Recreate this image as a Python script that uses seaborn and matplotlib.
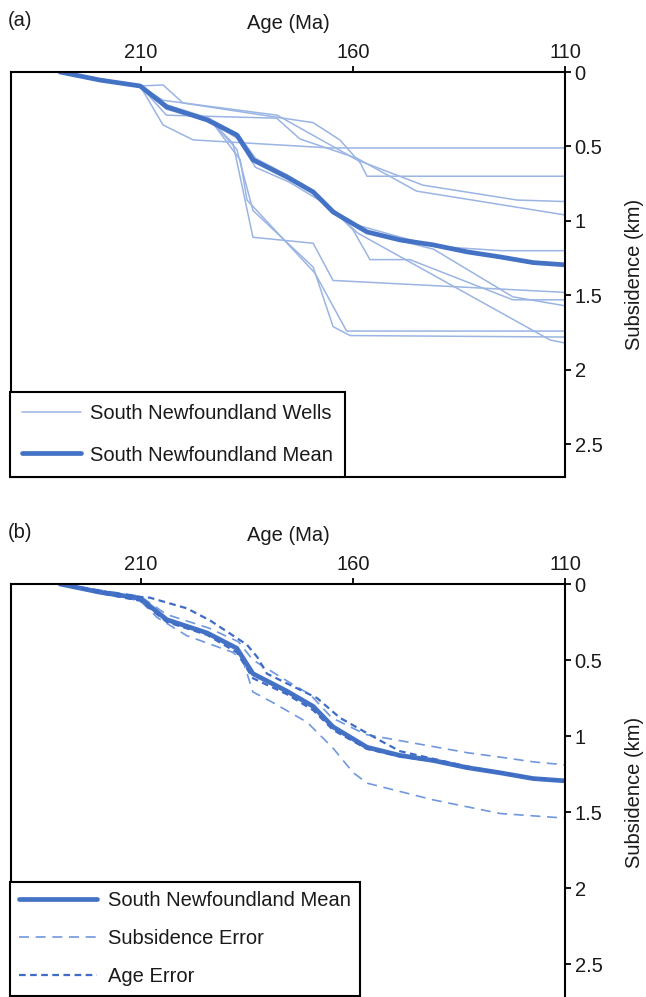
import matplotlib
matplotlib.use("Agg")
import matplotlib.pyplot as plt
import seaborn as sns
import pandas as pd
from matplotlib.lines import Line2D

sns.set_style("white")
plt.rcParams['font.family'] = ['Liberation Sans', 'DejaVu Sans']
plt.rcParams['text.color'] = '#1a1a1a'
plt.rcParams['axes.labelcolor'] = '#1a1a1a'
plt.rcParams['xtick.color'] = '#1a1a1a'
plt.rcParams['ytick.color'] = '#1a1a1a'

# ---------------- data ----------------
# Mean subsidence curve (age in Ma, subsidence in km)
mean_age = [229.1, 219.7, 210.2, 203.9, 194.4, 187.4, 183.6, 175.6, 169.4, 164.7,
            156.7, 148.9, 141.1, 133.1, 125.3, 117.5, 110.0]
mean_sub = [0.0, 0.054, 0.094, 0.235, 0.322, 0.423, 0.59, 0.705, 0.805, 0.94,
            1.074, 1.128, 1.161, 1.208, 1.242, 1.28, 1.295]

# Individual wells
w01_age = [229.1, 219.7, 210.2, 204.8, 197.7, 165.4, 110.0]
w01_sub = [0.0, 0.054, 0.094, 0.356, 0.456, 0.51, 0.51]
w02_age = [229.1, 219.7, 210.2, 204.8, 200.1, 178.9, 169.4, 163.1, 158.3, 156.7, 110.0]
w02_sub = [0.0, 0.054, 0.094, 0.087, 0.208, 0.30, 0.34, 0.456, 0.61, 0.70, 0.70]
w03_age = [229.1, 219.7, 210.2, 204.8, 177.9, 172.5, 159.1, 143.5, 121.3, 110.0]
w03_sub = [0.0, 0.054, 0.094, 0.19, 0.29, 0.376, 0.59, 0.76, 0.86, 0.87]
w04_age = [229.1, 219.7, 210.2, 204.0, 178.0, 172.5, 159.0, 145.0, 110.0]
w04_sub = [0.0, 0.054, 0.094, 0.29, 0.31, 0.45, 0.58, 0.80, 0.96]
w05_age = [229.1, 219.7, 210.2, 204.0, 194.0, 187.0, 183.0, 175.0, 168.0, 160.0, 150.0, 141.0, 125.0, 110.0]
w05_sub = [0.0, 0.054, 0.094, 0.25, 0.33, 0.45, 0.64, 0.74, 0.86, 1.02, 1.10, 1.17, 1.20, 1.20]
w06_age = [229.1, 219.7, 210.2, 204.0, 193.7, 188.3, 183.6, 169.4, 164.7, 110.0]
w06_sub = [0.0, 0.054, 0.094, 0.23, 0.32, 0.48, 1.11, 1.15, 1.40, 1.48]
w07_age = [229.1, 219.7, 210.2, 204.0, 194.0, 187.0, 182.0, 172.0, 165.0, 160.0, 156.0, 146.6, 122.3, 110.0]
w07_sub = [0.0, 0.054, 0.094, 0.24, 0.33, 0.44, 0.62, 0.75, 0.92, 1.06, 1.26, 1.26, 1.53, 1.53]
w08_age = [229.1, 219.7, 210.2, 204.0, 194.0, 187.0, 183.0, 175.0, 168.0, 163.0, 155.0, 141.0, 122.3, 110.0]
w08_sub = [0.0, 0.054, 0.094, 0.23, 0.32, 0.43, 0.60, 0.72, 0.84, 0.98, 1.09, 1.19, 1.51, 1.57]
w09_age = [229.1, 219.7, 210.2, 204.0, 194.0, 187.0, 183.0, 175.0, 168.0, 163.0, 159.0, 113.5, 110.0]
w09_sub = [0.0, 0.054, 0.094, 0.22, 0.31, 0.42, 0.58, 0.70, 0.83, 0.97, 1.08, 1.80, 1.82]
w10_age = [229.1, 219.7, 210.2, 204.0, 193.7, 187.4, 183.6, 169.4, 164.7, 160.7, 110.0]
w10_sub = [0.0, 0.054, 0.094, 0.23, 0.32, 0.52, 0.93, 1.31, 1.71, 1.77, 1.78]
w11_age = [229.1, 219.7, 210.2, 204.0, 193.7, 186.6, 185.0, 169.0, 161.5, 110.0]
w11_sub = [0.0, 0.054, 0.094, 0.23, 0.32, 0.59, 0.86, 1.35, 1.74, 1.74]

wells = [(w01_age, w01_sub), (w02_age, w02_sub), (w03_age, w03_sub), (w04_age, w04_sub),
         (w05_age, w05_sub), (w06_age, w06_sub), (w07_age, w07_sub), (w08_age, w08_sub),
         (w09_age, w09_sub), (w10_age, w10_sub), (w11_age, w11_sub)]

# Panel (b) error envelopes
sub_err_hi_age = [229.1, 219.7, 210.2, 204.0, 194.0, 187.0, 183.6, 176.0, 170.0, 165.0,
                  157.0, 149.0, 141.0, 133.0, 125.0, 117.5, 110.0]
sub_err_hi_sub = [0.0, 0.04, 0.08, 0.20, 0.29, 0.38, 0.50, 0.63, 0.73, 0.88,
                  0.99, 1.03, 1.07, 1.11, 1.14, 1.17, 1.19]
sub_err_lo_age = [229.1, 219.7, 210.2, 206.2, 199.2, 188.3, 185.9, 183.6, 178.9, 170.8,
                  164.7, 160.0, 156.7, 141.1, 125.3, 110.0]
sub_err_lo_sub = [0.0, 0.06, 0.11, 0.22, 0.34, 0.45, 0.51, 0.71, 0.78, 0.91,
                  1.08, 1.24, 1.31, 1.42, 1.51, 1.54]
age_err_a_age = [229.1, 219.7, 210.2, 207.9, 199.2, 193.7, 185.0, 182.6, 180.3, 168.5,
                 163.1, 153.6, 148.9, 141.1, 133.1, 125.3, 117.5, 110.0]
age_err_a_sub = [0.0, 0.045, 0.085, 0.09, 0.16, 0.24, 0.40, 0.48, 0.59, 0.75,
                 0.88, 1.03, 1.10, 1.15, 1.20, 1.24, 1.28, 1.295]
age_err_b_age = [229.1, 219.7, 210.2, 203.9, 194.4, 187.4, 183.6, 175.6, 169.4, 164.7,
                 156.7, 148.9, 141.1, 133.1, 125.3, 117.5, 110.0]
age_err_b_sub = [0.0, 0.06, 0.11, 0.25, 0.335, 0.45, 0.62, 0.725, 0.83, 0.96,
                 1.085, 1.135, 1.165, 1.21, 1.244, 1.28, 1.295]

age_ticks = [210, 160, 110]
sub_ticks = [0, 0.5, 1, 1.5, 2, 2.5]
sub_tick_labels = ["0", "0.5", "1", "1.5", "2", "2.5"]

# ---------------- styling ----------------
C_WELL = "#9AB4E4"
C_MEAN = "#4472C4"
C_SERR = "#6F98DE"
C_AERR = "#3F6CC6"
FS = 14.5

W, H = 646, 997
fig = plt.figure(figsize=(W / 100, H / 100), dpi=100)


def px_axes(left, top, right, bottom):
    return fig.add_axes([left / W, 1 - bottom / H, (right - left) / W, (bottom - top) / H])


def style_axes(ax, ymax):
    ax.set_xlim(240.66, 110)
    ax.set_ylim(ymax, 0)
    ax.xaxis.set_label_position('top')
    ax.xaxis.tick_top()
    ax.yaxis.set_label_position('right')
    ax.yaxis.tick_right()
    ax.set_xticks(age_ticks)
    ax.set_xticklabels([str(t) for t in age_ticks])
    ax.set_yticks(sub_ticks)
    ax.set_yticklabels(sub_tick_labels)
    ax.tick_params(axis='x', which='both', top=True, bottom=False, direction='out',
                   length=4, width=1.3, color='black', labelsize=FS, pad=3)
    ax.tick_params(axis='y', which='both', right=True, left=False, direction='out',
                   length=4, width=1.3, color='black', labelsize=FS, pad=3)
    ax.set_xlabel("Age (Ma)", fontsize=FS, labelpad=10)
    ax.set_ylabel("Subsidence (km)", fontsize=FS, labelpad=16)
    for s in ax.spines.values():
        s.set_color('black')
        s.set_linewidth(1.5)
    ax.grid(False)


def draw(ax, x, y, **kw):
    df = pd.DataFrame({"age": x, "sub": y})
    sns.lineplot(data=df, x="age", y="sub", ax=ax, sort=False, estimator=None, **kw)


# ---------------- panel (a) ----------------
axa = px_axes(11, 72, 565, 477)
for i, (xa, ya) in enumerate(wells):
    draw(axa, xa, ya, color=C_WELL, lw=1.1)
draw(axa, mean_age, mean_sub, color=C_MEAN, lw=3.4)
style_axes(axa, 2.72)
handles_a = [Line2D([], [], color=C_WELL, lw=1.1), Line2D([], [], color=C_MEAN, lw=3.4)]
leg = axa.legend(handles_a, ["South Newfoundland Wells", "South Newfoundland Mean"],
                 loc='lower left', bbox_to_anchor=(-0.002, 0.0), borderaxespad=0,
                 fontsize=FS, frameon=True, fancybox=False, handlelength=2.9,
                 handletextpad=0.45, labelspacing=1.1, borderpad=0.62)
leg.get_frame().set_edgecolor('black')
leg.get_frame().set_linewidth(1.5)
leg.get_frame().set_alpha(1)

# ---------------- panel (b) ----------------
axb = px_axes(11, 584, 565, 1000.5)
draw(axb, sub_err_hi_age, sub_err_hi_sub, color=C_SERR, lw=1.2, dashes=(6, 4))
draw(axb, sub_err_lo_age, sub_err_lo_sub, color=C_SERR, lw=1.2, dashes=(6, 4))
draw(axb, mean_age, mean_sub, color=C_MEAN, lw=3.4)
draw(axb, age_err_a_age, age_err_a_sub, color=C_AERR, lw=1.6, dashes=(3, 2))
draw(axb, age_err_b_age, age_err_b_sub, color=C_AERR, lw=1.6, dashes=(3, 2))
style_axes(axb, 2.74)
axb.spines['bottom'].set_visible(False)
handles_b = [Line2D([], [], color=C_MEAN, lw=3.4),
             Line2D([], [], color=C_SERR, lw=1.2, dashes=(6, 4)),
             Line2D([], [], color=C_AERR, lw=1.6, dashes=(3, 2))]
leg = axb.legend(handles_b, ["South Newfoundland Mean", "Subsidence Error", "Age Error"],
                 loc='lower left', bbox_to_anchor=(-0.002, 0.012), borderaxespad=0,
                 fontsize=FS, frameon=True, fancybox=False, handlelength=3.9,
                 handletextpad=0.5, labelspacing=0.95, borderpad=0.45)
leg.get_frame().set_edgecolor('black')
leg.get_frame().set_linewidth(1.5)
leg.get_frame().set_alpha(1)

fig.text(8 / W, 1 - 20 / H, "(a)", fontsize=FS, va='center', ha='left')
fig.text(8 / W, 1 - 532 / H, "(b)", fontsize=FS, va='center', ha='left')

fig.savefig("out.png", dpi=100)
